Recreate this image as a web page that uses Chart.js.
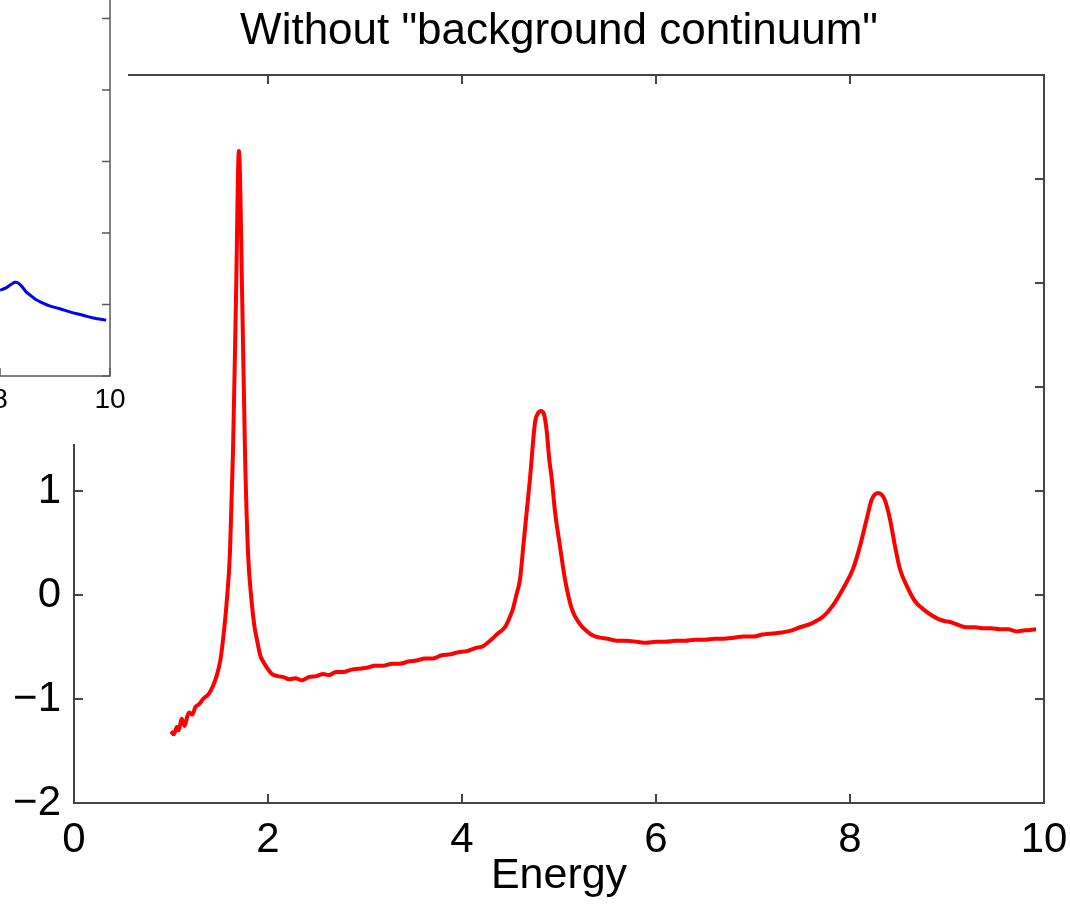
<!DOCTYPE html>
<html lang="en">
<head>
    <title>Without "background continuum"</title>
    <script src="https://cdn.jsdelivr.net/npm/chart.js"></script>
    <style>
        body {
            margin: 0;
            background: #ffffff;
            font-family: 'Liberation Sans', Arial, sans-serif;
        }
        .stage {
            position: relative;
            width: 1070px;
            height: 906px;
            overflow: hidden;
        }
        #mainChart {
            position: absolute;
            left: 0;
            top: 0;
        }
        .inset {
            position: absolute;
            left: 0;
            top: 0;
            width: 128px;
            height: 444px;
            overflow: hidden;
            background: #ffffff;
        }
        #insetChart {
            position: absolute;
            left: -460px;
            top: -80px;
        }
    </style>
</head>
<body>
    <div class="stage">
        <canvas id="mainChart" width="1070" height="906"></canvas>
        <div class="inset">
            <canvas id="insetChart" width="588" height="524"></canvas>
        </div>
    </div>

    <script>
        // main spectrum, background removed (red)
        const energy = [
            1.00, 1.03, 1.06, 1.08, 1.11, 1.14, 1.17, 1.19, 1.22, 1.25,
            1.29, 1.33, 1.39, 1.43, 1.47, 1.51, 1.54, 1.574, 1.608, 1.639,
            1.67, 1.70, 1.735, 1.763, 1.794, 1.832, 1.86, 1.884, 1.92, 1.95,
            1.99, 2.04, 2.10, 2.16, 2.22, 2.28, 2.35, 2.42, 2.50, 2.57,
            2.63, 2.70, 2.78, 2.85, 2.93, 3.02, 3.10, 3.19, 3.28, 3.36,
            3.45, 3.53, 3.62, 3.70, 3.79, 3.88, 3.96, 4.05, 4.14, 4.22,
            4.30, 4.37, 4.443, 4.49, 4.526, 4.56, 4.598, 4.632, 4.667, 4.701,
            4.753, 4.785, 4.814, 4.845, 4.873, 4.90, 4.925, 4.959, 5.010, 5.062,
            5.131, 5.216, 5.29, 5.351, 5.42, 5.50, 5.60, 5.70, 5.80, 5.90,
            6.00, 6.10, 6.20, 6.30, 6.40, 6.50, 6.60, 6.70, 6.80, 6.90,
            7.00, 7.10, 7.20, 7.30, 7.40, 7.485, 7.588, 7.65, 7.722, 7.824,
            7.928, 8.031, 8.103, 8.172, 8.224, 8.26, 8.292, 8.33, 8.361, 8.412,
            8.464, 8.515, 8.584, 8.670, 8.773, 8.850, 8.907, 8.97, 9.031, 9.12,
            9.203, 9.29, 9.371, 9.46, 9.546, 9.63, 9.719, 9.80, 9.918
        ];
        const signal = [
            -1.31, -1.34, -1.27, -1.30, -1.19, -1.26, -1.16, -1.13, -1.15, -1.08,
            -1.05, -1.00, -0.95, -0.88, -0.78, -0.62, -0.40, -0.07, 0.41, 1.37,
            2.85, 4.27, 2.80, 1.37, 0.41, -0.07, -0.30, -0.42, -0.58, -0.64,
            -0.70, -0.76, -0.78, -0.79, -0.81, -0.80, -0.82, -0.79, -0.78, -0.76,
            -0.77, -0.74, -0.74, -0.72, -0.71, -0.70, -0.68, -0.68, -0.66, -0.66,
            -0.64, -0.63, -0.61, -0.61, -0.58, -0.57, -0.55, -0.54, -0.51, -0.49,
            -0.43, -0.37, -0.31, -0.22, -0.13, 0.00, 0.15, 0.47, 0.80, 1.12,
            1.66, 1.75, 1.77, 1.74, 1.58, 1.30, 1.12, 0.80, 0.47, 0.15,
            -0.13, -0.28, -0.35, -0.39, -0.41, -0.42, -0.44, -0.44, -0.45, -0.46,
            -0.45, -0.45, -0.44, -0.44, -0.43, -0.43, -0.42, -0.42, -0.41, -0.40,
            -0.40, -0.38, -0.37, -0.36, -0.34, -0.31, -0.28, -0.25, -0.21, -0.10,
            0.06, 0.25, 0.47, 0.73, 0.92, 0.97, 0.98, 0.96, 0.91, 0.73,
            0.47, 0.25, 0.09, -0.06, -0.15, -0.20, -0.23, -0.25, -0.26, -0.29,
            -0.31, -0.31, -0.32, -0.32, -0.33, -0.33, -0.35, -0.34, -0.33
        ];
        const xTicks = [0, 2, 4, 6, 8, 10];
        const yTicks = [-2, -1, 0, 1, 2, 3, 4, 5];

        // inset: tail of the full spectrum (blue)
        const insetEnergy = [8.00, 8.10, 8.20, 8.27, 8.33, 8.40, 8.47, 8.55, 8.65, 8.78, 8.90, 9.09, 9.30, 9.51, 9.70, 9.93];
        const insetSignal = [1.20, 1.23, 1.28, 1.31, 1.30, 1.25, 1.18, 1.13, 1.07, 1.02, 0.98, 0.94, 0.89, 0.85, 0.81, 0.78];
        const insetXTicks = [0, 2, 4, 6, 8, 10];
        const insetYTicks = [0, 1, 2, 3, 4, 5, 6];

        const FONT = "'Liberation Sans', Arial, sans-serif";

        // MATLAB style box with ticks pointing inward
        const boxTicks = {
            id: 'boxTicks',
            afterDatasetsDraw(chart, args, opts) {
                const { ctx, chartArea: a } = chart;
                const x = chart.scales.x, y = chart.scales.y;
                ctx.save();
                ctx.strokeStyle = opts.color;
                ctx.lineWidth = opts.width;
                ctx.beginPath();
                x.ticks.forEach(t => {
                    const px = x.getPixelForValue(t.value);
                    ctx.moveTo(px, a.bottom); ctx.lineTo(px, a.bottom - opts.len);
                    ctx.moveTo(px, a.top); ctx.lineTo(px, a.top + opts.len);
                });
                y.ticks.forEach(t => {
                    const py = y.getPixelForValue(t.value);
                    ctx.moveTo(a.left, py); ctx.lineTo(a.left + opts.len, py);
                    ctx.moveTo(a.right, py); ctx.lineTo(a.right - opts.len, py);
                });
                ctx.stroke();
                ctx.strokeRect(a.left, a.top, a.right - a.left, a.bottom - a.top);
                ctx.restore();
            }
        };

        const minus = v => String(v).replace('-', '\u2212');
        const noPad = s => { s.paddingLeft = 0; s.paddingRight = 0; s.paddingTop = 0; s.paddingBottom = 0; };

        new Chart(document.getElementById('mainChart'), {
            type: 'line',
            data: {
                datasets: [{
                    data: energy.map((e, i) => ({ x: e, y: signal[i] })),
                    borderColor: '#ff0000',
                    borderWidth: 4,
                    pointRadius: 0,
                    cubicInterpolationMode: 'monotone',
                    fill: false
                }]
            },
            options: {
                responsive: false,
                animation: false,
                layout: { padding: { left: 0, right: 26, top: 0, bottom: 0 } },
                plugins: {
                    legend: { display: false },
                    tooltip: { enabled: false },
                    title: {
                        display: true,
                        fullSize: false,
                        text: 'Without "background continuum"',
                        color: '#000000',
                        font: { family: FONT, size: 44, weight: 'normal', lineHeight: 1.2 },
                        padding: { top: 5, bottom: 17.2 }
                    },
                    boxTicks: { color: '#444444', width: 2, len: 9 }
                },
                scales: {
                    x: {
                        type: 'linear',
                        min: 0,
                        max: 10,
                        afterBuildTicks: s => { s.ticks = xTicks.map(v => ({ value: v })); },
                        afterFit: s => { s.height = 103; noPad(s); },
                        grid: { display: false, drawTicks: false },
                        border: { display: false },
                        ticks: {
                            autoSkip: false,
                            maxRotation: 0,
                            padding: 12,
                            color: '#000000',
                            font: { family: FONT, size: 42 },
                            callback: v => minus(v)
                        },
                        title: {
                            display: true,
                            text: 'Energy',
                            color: '#000000',
                            font: { family: FONT, size: 43, lineHeight: 1.2 },
                            padding: { top: 0, bottom: 4.5 }
                        }
                    },
                    y: {
                        type: 'linear',
                        min: -2,
                        max: 5,
                        afterBuildTicks: s => { s.ticks = yTicks.map(v => ({ value: v })); },
                        afterFit: s => { s.width = 74; noPad(s); },
                        grid: { display: false, drawTicks: false },
                        border: { display: false },
                        ticks: {
                            autoSkip: false,
                            padding: 13,
                            color: '#000000',
                            font: { family: FONT, size: 42 },
                            callback: v => minus(v)
                        }
                    }
                }
            },
            plugins: [boxTicks]
        });

        new Chart(document.getElementById('insetChart'), {
            type: 'line',
            data: {
                datasets: [{
                    data: insetEnergy.map((e, i) => ({ x: e, y: insetSignal[i] })),
                    borderColor: '#0000ff',
                    borderWidth: 3,
                    pointRadius: 0,
                    tension: 0.3,
                    fill: false
                }]
            },
            options: {
                responsive: false,
                animation: false,
                layout: { padding: { left: 20, right: 18, top: 27, bottom: 0 } },
                plugins: {
                    legend: { display: false },
                    tooltip: { enabled: false },
                    boxTicks: { color: '#5a5a5a', width: 1.5, len: 8 }
                },
                scales: {
                    x: {
                        type: 'linear',
                        min: 0,
                        max: 10,
                        afterBuildTicks: s => { s.ticks = insetXTicks.map(v => ({ value: v })); },
                        afterFit: s => { s.height = 68; noPad(s); },
                        grid: { display: false, drawTicks: false },
                        border: { display: false },
                        ticks: {
                            autoSkip: false,
                            maxRotation: 0,
                            padding: 7,
                            color: '#000000',
                            font: { family: FONT, size: 28 }
                        }
                    },
                    y: {
                        type: 'linear',
                        min: 0,
                        max: 6,
                        afterBuildTicks: s => { s.ticks = insetYTicks.map(v => ({ value: v })); },
                        afterFit: s => { s.width = 0; noPad(s); },
                        grid: { display: false, drawTicks: false },
                        border: { display: false },
                        ticks: { display: false }
                    }
                }
            },
            plugins: [boxTicks]
        });
    </script>
</body>
</html>
